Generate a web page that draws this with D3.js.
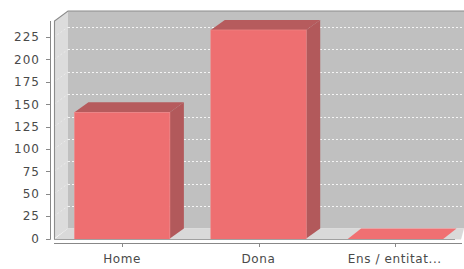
<!DOCTYPE html>
<html>
<head>
<meta charset="utf-8">
<script src="https://cdn.jsdelivr.net/npm/d3@7"></script>
<style>
  body { margin: 0; background: #fff; }
  text { font-family: "DejaVu Sans", sans-serif; }
</style>
</head>
<body>
<div id="chart"></div>
<script>
const categories = ['Home', 'Dona', 'Ens / entitat...'];
const values = [141, 233, 0];
const yTicks = [0, 25, 50, 75, 100, 125, 150, 175, 200, 225];

const width = 464;
const height = 269;
const dx = 14; // 3d depth offset
const dy = 10;

const plotLeft = 54;
const plotRight = 463;
const plotTop = 21;
const plotBottom = 238.5;
const axisX = 50;

const svg = d3
  .select('#chart')
  .append('svg')
  .attr('width', width)
  .attr('height', height);

const y = d3.scaleLinear().domain([0, 243]).range([plotBottom, plotTop]);
const x = d3
  .scaleBand()
  .domain(categories)
  .range([plotLeft, plotRight])
  .paddingInner(0.3)
  .paddingOuter(0.15);

// walls
svg.append('path')
  .attr('d', `M${plotLeft},${plotBottom}L${plotLeft},${plotTop}L${plotLeft + dx},${plotTop - dy}L${plotLeft + dx},${plotBottom - dy}Z`)
  .attr('fill', '#dcdcdc');
svg.append('rect')
  .attr('x', plotLeft + dx)
  .attr('y', plotTop - dy)
  .attr('width', width - plotLeft - dx)
  .attr('height', plotBottom - plotTop)
  .attr('fill', '#c0c0c0');
// floor
svg.append('path')
  .attr('d', `M${plotLeft},${plotBottom + 1}L${plotLeft + dx},${plotBottom - dy}L${plotRight + 1},${plotBottom - dy}L${plotRight - dx + 12},${plotBottom + 1}Z`)
  .attr('fill', '#d9d9d9');

// gridlines
const grid = svg.append('g').attr('stroke', '#f4f4f4').attr('stroke-width', 1).attr('stroke-dasharray', '2,2');
grid.selectAll('line.back')
  .data(yTicks.filter(d => d > 0))
  .join('line')
  .attr('class', 'back')
  .attr('x1', plotLeft + dx)
  .attr('x2', width)
  .attr('y1', d => Math.round(y(d) - dy) + 0.5)
  .attr('y2', d => Math.round(y(d) - dy) + 0.5);
grid.selectAll('line.side')
  .data(yTicks.filter(d => d > 0))
  .join('line')
  .attr('class', 'side')
  .attr('stroke-opacity', 0.6)
  .attr('x1', plotLeft)
  .attr('x2', plotLeft + dx)
  .attr('y1', d => y(d))
  .attr('y2', d => y(d) - dy);

// plot outline
svg.append('path')
  .attr('d', `M${plotLeft + 0.5},${plotBottom + 1}L${plotLeft + 0.5},${plotTop}L${plotLeft + dx},${plotTop - dy}L${width},${plotTop - dy}`)
  .attr('fill', 'none')
  .attr('stroke', '#8c8c8c')
  .attr('stroke-width', 1.1);

// bars
const bars = svg.append('g').selectAll('g').data(values).join('g');
bars.each(function (v, i) {
  const g = d3.select(this);
  const x0 = x(categories[i]);
  const x1 = x0 + x.bandwidth();
  const yv = y(v);
  if (v > 0) {
    g.append('path')
      .attr('d', `M${x0},${yv}L${x0 + dx},${yv - dy}L${x1 + dx},${yv - dy}L${x1},${yv}Z`)
      .attr('fill', '#b65b5d');
    g.append('path')
      .attr('d', `M${x1},${yv}L${x1 + dx},${yv - dy}L${x1 + dx},${plotBottom - dy}L${x1},${plotBottom}Z`)
      .attr('fill', '#b2595b');
    g.append('rect')
      .attr('x', x0)
      .attr('y', yv)
      .attr('width', x.bandwidth())
      .attr('height', plotBottom - yv + 1)
      .attr('fill', '#ee6f71')
      .attr('stroke', '#f08a8b')
      .attr('stroke-width', 0.6);
  } else {
    g.append('path')
      .attr('d', `M${x0},${plotBottom + 1}L${x0 + dx},${plotBottom - dy}L${x1 + dx},${plotBottom - dy}L${x1},${plotBottom + 1}Z`)
      .attr('fill', '#f07072');
  }
});

// front bottom edge
svg.append('line')
  .attr('x1', plotLeft).attr('x2', plotRight - 8)
  .attr('y1', plotBottom + 1).attr('y2', plotBottom + 1)
  .attr('stroke', '#a0a0a0');

// value axis
const yAxis = svg.append('g').attr('transform', `translate(${axisX},0)`);
yAxis.append('line')
  .attr('x1', 0.5).attr('x2', 0.5)
  .attr('y1', plotTop).attr('y2', plotBottom + 1)
  .attr('stroke', '#888');
yAxis.selectAll('line.tick')
  .data(yTicks)
  .join('line')
  .attr('class', 'tick')
  .attr('x1', -4).attr('x2', 0.5)
  .attr('y1', d => Math.round(y(d)) + 0.5)
  .attr('y2', d => Math.round(y(d)) + 0.5)
  .attr('stroke', '#888');
yAxis.selectAll('text')
  .data(yTicks)
  .join('text')
  .attr('x', -10)
  .attr('y', d => y(d))
  .attr('dy', '0.36em')
  .attr('text-anchor', 'end')
  .attr('font-size', 12)
  .attr('letter-spacing', '1px')
  .attr('fill', '#4a4a4a')
  .text(d => d);

// category axis
const xAxis = svg.append('g');
xAxis.append('line')
  .attr('x1', plotLeft).attr('x2', plotRight - 1)
  .attr('y1', 243.5).attr('y2', 243.5)
  .attr('stroke', '#888');
xAxis.selectAll('line.tick')
  .data(categories)
  .join('line')
  .attr('class', 'tick')
  .attr('x1', d => Math.round(x(d) + x.bandwidth() / 2) + 0.5)
  .attr('x2', d => Math.round(x(d) + x.bandwidth() / 2) + 0.5)
  .attr('y1', 243.5).attr('y2', 247)
  .attr('stroke', '#888');
xAxis.selectAll('text')
  .data(categories)
  .join('text')
  .attr('x', d => x(d) + x.bandwidth() / 2)
  .attr('y', 258.5)
  .attr('dy', '0.36em')
  .attr('text-anchor', 'middle')
  .attr('font-size', 12)
  .attr('letter-spacing', '0.6px')
  .attr('fill', '#4a4a4a')
  .text(d => d);
</script>
</body>
</html>
